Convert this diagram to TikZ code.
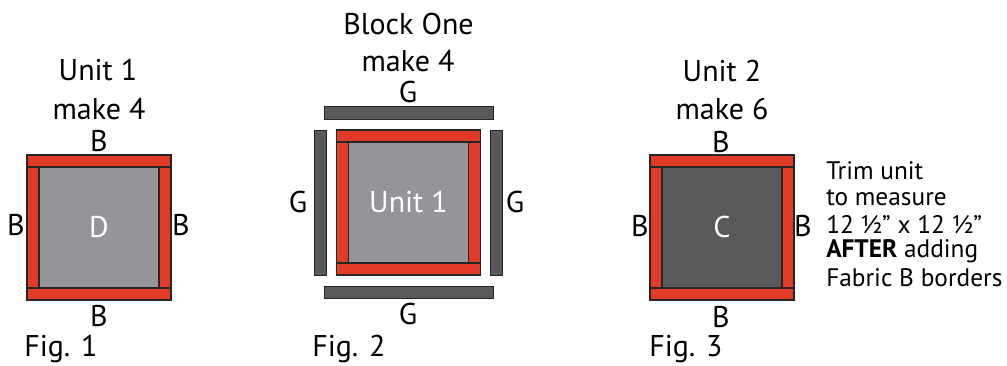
\documentclass[tikz,border=0pt]{standalone}
\usepackage{fontspec}
\setmainfont{PT Sans}
\definecolor{redf}{RGB}{225,58,38}
\definecolor{greyd}{RGB}{147,149,152}
\definecolor{greyc}{RGB}{88,89,91}
\tikzset{
 strip/.style={draw=black!85,line width=0.9pt,fill=redf},
 gstrip/.style={draw=black!85,line width=0.7pt,fill=greyc},
 lab/.style={text=black,font=\fontsize{22.5}{24}\selectfont,inner sep=0pt,anchor=center},
 inlab/.style={text=white,font=\fontsize{22.5}{24}\selectfont,inner sep=0pt,anchor=center},
 title/.style={text=black,font=\fontsize{22.5}{24}\selectfont,inner sep=0pt,anchor=center},
 fig/.style={text=black,font=\fontsize{22.5}{24}\selectfont,inner sep=0pt,anchor=west},
 note/.style={text=black,font=\fontsize{19}{20}\selectfont,inner sep=0pt,anchor=west},
}
\newcommand{\quiltunit}[4]{% x, y, fill, text
 \fill[#3] (#1+12,#2+12) rectangle (#1+132,#2+133);
 \draw[strip] (#1,#2+12) rectangle (#1+12,#2+133);
 \draw[strip] (#1+132,#2+12) rectangle (#1+144,#2+133);
 \draw[strip] (#1,#2) rectangle (#1+144,#2+12);
 \draw[strip] (#1,#2+133) rectangle (#1+144,#2+145);
 \draw[black!85,line width=0.9pt] (#1+12,#2+12) rectangle (#1+132,#2+133);
 \node[inlab] at (#1+72,#2+72) {#4};
}
\begin{document}
\begin{tikzpicture}[x=0.75pt,y=-0.75pt]
\useasboundingbox (0,0) rectangle (1007,366);
\quiltunit{27}{155}{greyd}{D}
\quiltunit{336.5}{130}{greyd}{Unit 1}
\quiltunit{650}{155}{greyc}{C}
\draw[gstrip] (324,106) rectangle (493,119);
\draw[gstrip] (324,286) rectangle (493,298);
\draw[gstrip] (314,130) rectangle (326.5,275);
\draw[gstrip] (490,130) rectangle (502,275);
\node[title] (t1a) at (98,70) {Unit 1};
\node[title] (t1b) at (99,109) {make 4};
\node[title] (t2a) at (408.5,24) {Block One};
\node[title] (t2b) at (408,61) {make 4};
\node[title] (t3a) at (722,71) {Unit 2};
\node[title] (t3b) at (722,109) {make 6};
\node[lab] (b1) at (99,141) {B};
\node[lab] (b2) at (16,225) {B};
\node[lab] (b3) at (181,225) {B};
\node[lab] (b4) at (99,316) {B};
\node[lab] (g1) at (408,92) {G};
\node[lab] (g2) at (298,202) {G};
\node[lab] (g3) at (515,202) {G};
\node[lab] (g4) at (408,314) {G};
\node[lab] (b5) at (721,142) {B};
\node[lab] (b6) at (640,226) {B};
\node[lab] (b7) at (803,226) {B};
\node[lab] (b8) at (721,317) {B};
\node[fig] (f1) at (24,349) {Fig. 1};
\node[fig] (f2) at (312,349) {Fig. 2};
\node[fig] (f3) at (649,349) {Fig. 3};
\node[note] (n1) at (826,171) {Trim unit};
\node[note] (n2) at (826,198) {to measure};
\node[note] (n3) at (826,225) {12 ½” x 12 ½”};
\node[note] (n4) at (826,251) {\textbf{AFTER} adding};
\node[note] (n5) at (826,278) {Fabric B borders};
\end{tikzpicture}
\end{document}
